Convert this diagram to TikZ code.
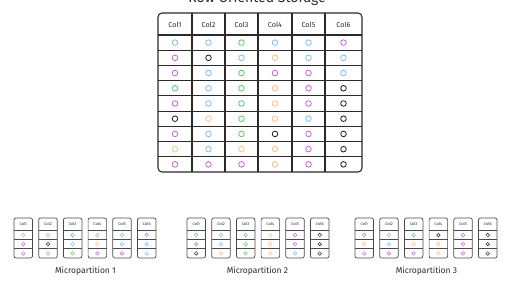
\documentclass[tikz,border=0pt]{standalone}
\usepackage{fontspec}
\setmainfont{Fira Sans}
\definecolor{cb}{HTML}{74C0FC}
\definecolor{cp}{HTML}{CC5DE8}
\definecolor{cg}{HTML}{51CF66}
\definecolor{co}{HTML}{FFC078}
\definecolor{ck}{HTML}{1E1E1E}
\definecolor{ink}{HTML}{2A2A2A}
\begin{document}
\begin{tikzpicture}[x=1pt,y=-1pt,
  dot/.style={circle,draw=#1,line width=0.8pt,minimum size=5.6pt,inner sep=0pt},
  sdot/.style={circle,draw=#1,line width=0.5pt,minimum size=3.6pt,inner sep=0pt},
  tline/.style={draw=ink,line width=1.1pt},
  sline/.style={draw=ink!85,line width=0.7pt},
  hdr/.style={font=\fontsize{7.2}{8}\selectfont,text=ink,inner sep=0pt},
  shdr/.style={font=\fontsize{4}{5}\selectfont,text=ink,inner sep=0pt},
  lbl/.style={font=\fontsize{8.5}{9}\selectfont,text=ink,inner sep=0pt}]
\useasboundingbox[fill=white] (0,0) rectangle (516,289);
% title (mostly cut off at the top, as in the reference)
\node[font=\fontsize{14}{16}\selectfont,text=ink,anchor=base,inner sep=0pt] (title) at (257,2) {Row Oriented Storage};
% main table
\draw[tline,rounded corners=4pt] (158,13) rectangle (362,172);
\foreach \x in {192,225,258,292,325} \draw[tline] (\x,13) -- (\x,172);
\foreach \i in {0,...,8} \draw[tline] (158,{35+15.22*\i}) -- (362,{35+15.22*\i});
\foreach \cx [count=\k] in {175,208.5,241.5,275,308.5,343.5}
  \node[hdr] (h\k) at (\cx,24.5) {Col\k};
% micropartition boxes
\foreach \bx [count=\m] in {14,187,355} {
  \foreach \k in {1,...,6} {
    \pgfmathsetmacro{\lx}{\bx+24.7*(\k-1)}
    \draw[sline,rounded corners=2pt] (\lx,218) rectangle ({\lx+18.5},258);
    \foreach \j in {0,1,2} \draw[sline] (\lx,{230.5+9.17*\j}) -- ({\lx+18.5},{230.5+9.17*\j});
    \node[shdr] (s\m-\k) at ({\lx+9.25},224.5) {Col\k};
  }
}
\node[lbl] (mp1) at (85.5,271) {Micropartition 1};
\node[lbl] (mp2) at (257.5,271) {Micropartition 2};
\node[lbl] (mp3) at (426.5,271) {Micropartition 3};
% data dots
\foreach \row [count=\r] in {
  {cb,cb,cg,cb,cb,cp},
  {cp,ck,cb,co,cb,cb},
  {cp,cb,cg,cp,cp,cb},
  {cg,cb,cg,co,cp,ck},
  {cp,cb,cg,co,cp,ck},
  {ck,co,cg,co,cb,ck},
  {cp,cb,cg,ck,cp,ck},
  {co,cb,co,co,cp,ck},
  {cp,cp,cp,co,cp,ck}} {
  \pgfmathtruncatemacro{\m}{int((\r-1)/3)}
  \pgfmathtruncatemacro{\jj}{\r-3*\m}
  \pgfmathsetmacro{\bx}{\m==0 ? 14 : (\m==1 ? 187 : 355)}
  \pgfmathsetmacro{\ry}{35+15.22*(\r-0.5)}
  \pgfmathsetmacro{\sy}{230.5+9.17*(\jj-0.5)}
  \foreach \c [count=\k] in \row {
    \pgfmathsetmacro{\cx}{{175,208.5,241.5,275,308.5,343.5}[\k-1]}
    \pgfmathsetmacro{\sx}{\bx+24.7*(\k-1)+9.25}
    \node[dot=\c] (d\r-\k) at (\cx,\ry) {};
    \node[sdot=\c] (p\r-\k) at (\sx,\sy) {};
  }
}
\end{tikzpicture}
\end{document}
